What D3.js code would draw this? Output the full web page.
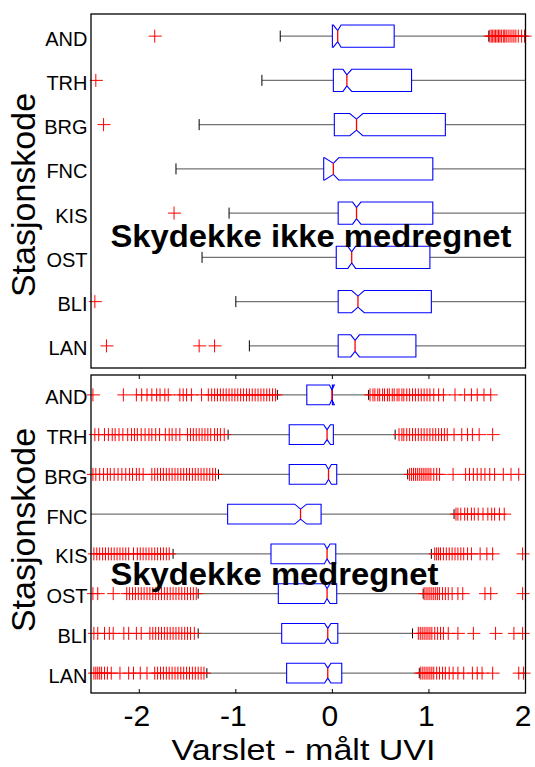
<!DOCTYPE html>
<html>
<head>
<meta charset="utf-8">
<script src="https://cdn.jsdelivr.net/npm/d3@7"></script>
<style>
  html, body { margin: 0; padding: 0; background: #fff; }
  svg { display: block; }
  text { font-family: "Liberation Sans", Arial, Helvetica, sans-serif; }
</style>
</head>
<body>
<svg id="chart" width="535" height="767"></svg>
<script>
// Station codes, top to bottom
const stations = ["AND", "TRH", "BRG", "FNC", "KIS", "OST", "BLI", "LAN"];
const xTicks = [-2, -1, 0, 1, 2];
const xLabel = "Varslet - målt UVI";
const yLabel = "Stasjonskode";

// Panel 1: cloud cover not included
const p1Title = "Skydekke ikke medregnet";
const p1WhiskerLow  = [-0.54, -0.73, -1.38, -1.62, -1.07, -1.35, -1.00, -0.86];
const p1Q1          = [0.00, 0.01, 0.02, -0.09, 0.06, 0.04, 0.06, 0.06];
const p1NotchLow    = [0.01, 0.11, 0.18, -0.08, 0.21, 0.16, 0.20, 0.19];
const p1Median      = [0.055, 0.15, 0.25, 0.01, 0.25, 0.20, 0.265, 0.235];
const p1NotchHigh   = [0.09, 0.20, 0.315, 0.065, 0.295, 0.24, 0.33, 0.28];
const p1Q3          = [0.64, 0.82, 1.17, 1.04, 1.04, 1.01, 1.025, 0.865];
const p1WhiskerHigh = [1.62, 2.45, 2.6, 2.55, 2.5, 2.45, 2.5, 2.4];
const p1Outliers = [
  [-1.84, 1.63, 1.645, 1.66, 1.675, 1.69, 1.705, 1.72, 1.735, 1.75, 1.77, 1.785, 1.80, 1.82, 1.84, 1.86, 1.88, 1.90, 1.925, 1.96, 1.99],
  [-2.45],
  [-2.37],
  [],
  [-1.64],
  [],
  [-2.46],
  [-2.34, -1.38, -1.22]
];

// Panel 2: cloud cover included
const p2Title = "Skydekke medregnet";
const p2WhiskerLow  = [-0.57, -1.08, -1.18, -2.8, -1.65, -1.39, -1.39, -1.30];
const p2Q1          = [-0.265, -0.447, -0.447, -1.085, -0.636, -0.56, -0.525, -0.474];
const p2NotchLow    = [-0.03, -0.09, -0.07, -0.39, -0.083, -0.083, -0.08, -0.08];
const p2Median      = [-0.005, -0.055, -0.04, -0.33, -0.055, -0.055, -0.048, -0.048];
const p2NotchHigh   = [0.02, -0.02, -0.01, -0.267, -0.024, -0.024, -0.015, -0.015];
const p2Q3          = [0.0, 0.01, 0.045, -0.117, 0.035, 0.045, 0.056, 0.097];
const p2WhiskerHigh = [0.375, 0.65, 0.78, 1.26, 1.025, 0.94, 0.83, 0.90];
const p2Outliers = [
  [-2.48, -2.165, -2.03, -1.975, -1.92, -1.87, -1.82, -1.785, -1.735, -1.70, -1.58, -1.545, -1.51, -1.46, -1.355, -1.285,
   -1.25, -1.22, -1.19, -1.16, -1.13, -1.10, -1.07, -1.04, -1.01, -0.98, -0.95, -0.92, -0.89, -0.86, -0.83, -0.80, -0.77, -0.74, -0.71, -0.68, -0.65, -0.62, -0.59,
   0.39, 0.42, 0.44, 0.47, 0.49, 0.52, 0.54, 0.57, 0.59, 0.62, 0.64, 0.67, 0.69, 0.72, 0.74, 0.77, 0.80, 0.83, 0.86, 0.89, 0.92, 0.95, 0.98, 1.01,
   1.05, 1.10, 1.15, 1.27, 1.37, 1.44, 1.50, 1.57, 1.64],
  [-2.46, -2.42, -2.36, -2.32, -2.28, -2.25, -2.21, -2.17, -2.12, -2.08, -2.05, -2.02, -1.98, -1.94, -1.90, -1.87, -1.83, -1.79, -1.73, -1.69, -1.66, -1.62, -1.58,
   -1.50, -1.47, -1.44, -1.41, -1.38, -1.35, -1.32, -1.29, -1.26, -1.22, -1.19, -1.16, -1.12,
   0.69, 0.72, 0.74, 0.77, 0.80, 0.83, 0.86, 0.89, 0.92, 0.95, 0.98, 1.01, 1.04, 1.07, 1.10, 1.13, 1.16, 1.19, 1.26, 1.34, 1.40, 1.45, 1.52, 1.66],
  [-2.48, -2.45, -2.41, -2.37, -2.33, -2.30, -2.26, -2.22, -2.18, -2.14, -2.10, -2.07, -2.03, -2.00, -1.96,
   -1.87, -1.84, -1.81, -1.78, -1.75, -1.72, -1.69, -1.66, -1.63, -1.60, -1.57, -1.54, -1.51, -1.48, -1.45, -1.42, -1.39, -1.36, -1.33, -1.30, -1.27, -1.24, -1.21,
   0.80, 0.82, 0.84, 0.86, 0.88, 0.90, 0.92, 0.94, 0.96, 0.98, 1.00, 1.02, 1.05, 1.08, 1.11,
   1.25, 1.38, 1.42, 1.46, 1.50, 1.54, 1.58, 1.63, 1.68, 1.77, 1.85, 1.93],
  [1.28, 1.30, 1.33, 1.37, 1.40, 1.44, 1.47, 1.51, 1.56, 1.61, 1.65, 1.68, 1.73, 1.78],
  [-2.47, -2.44, -2.41, -2.38, -2.35, -2.32, -2.29, -2.26, -2.23, -2.20, -2.17, -2.14, -2.11, -2.06, -2.02, -1.99, -1.96, -1.93, -1.90, -1.87, -1.84, -1.81, -1.78, -1.75, -1.72, -1.69,
   1.06, 1.08, 1.10, 1.12, 1.15, 1.18, 1.21, 1.24, 1.27, 1.30, 1.33, 1.36, 1.40, 1.44, 1.53, 1.60, 1.66, 1.97],
  [-2.48, -2.43, -2.27, -2.13, -2.10, -2.07, -2.04, -2.01, -1.98, -1.95, -1.92, -1.89, -1.86, -1.83, -1.80, -1.77, -1.74, -1.71, -1.68, -1.65, -1.62, -1.59, -1.56, -1.53, -1.50, -1.47, -1.44, -1.41,
   0.95, 0.97, 0.99, 1.01, 1.03, 1.05, 1.07, 1.09, 1.11, 1.14, 1.17, 1.20, 1.24, 1.30, 1.35, 1.58, 1.64, 1.97],
  [-2.47, -2.43, -2.36, -2.31, -2.27, -2.16, -2.11, -2.03, -1.98, -1.89, -1.86, -1.83, -1.80, -1.77, -1.74, -1.71, -1.68, -1.65, -1.62, -1.59, -1.56, -1.53, -1.50, -1.47, -1.43,
   0.89, 0.91, 0.93, 0.95, 0.97, 0.99, 1.01, 1.03, 1.06, 1.09, 1.12, 1.15, 1.20, 1.30, 1.46, 1.69, 1.88, 1.97],
  [-2.47, -2.45, -2.43, -2.41, -2.39, -2.36, -2.33, -2.29, -2.20, -2.11, -2.06, -1.99, -1.92,
   -1.84, -1.81, -1.78, -1.75, -1.72, -1.69, -1.66, -1.63, -1.60, -1.57, -1.54, -1.51, -1.48, -1.45, -1.42, -1.39, -1.36, -1.33,
   0.91, 0.93, 0.95, 0.97, 0.99, 1.01, 1.03, 1.05, 1.08, 1.11, 1.14, 1.17, 1.21, 1.25, 1.30, 1.36, 1.45, 1.50, 1.55, 1.66, 1.93, 1.98]
];

// ---- layout ----
const plotLeft = 91, plotRight = 525.5;
const x = d3.scaleLinear().domain([-2.5, 2]).range([plotLeft, plotRight]);

const panels = [
  { id: "p1", top: 14, bottom: 368, title: p1Title, titleY: 247, titleW: 401, yLabelY: 195, showTicks: false,
    wLo: p1WhiskerLow, q1: p1Q1, nLo: p1NotchLow, med: p1Median, nHi: p1NotchHigh, q3: p1Q3, wHi: p1WhiskerHigh, out: p1Outliers },
  { id: "p2", top: 375, bottom: 693, title: p2Title, titleY: 585, titleW: 328, yLabelY: 530, showTicks: true,
    wLo: p2WhiskerLow, q1: p2Q1, nLo: p2NotchLow, med: p2Median, nHi: p2NotchHigh, q3: p2Q3, wHi: p2WhiskerHigh, out: p2Outliers }
];

const svg = d3.select("#chart");
const defs = svg.append("defs");
const [xMin, xMax] = x.domain();

panels.forEach(p => {
  const y = d3.scalePoint().domain(stations).range([p.top, p.bottom]).padding(0.5);
  const hw = y.step() * 0.25;      // half box height
  const nd = hw / 2;               // notch depth

  defs.append("clipPath").attr("id", "clip-" + p.id)
    .append("rect")
    .attr("x", plotLeft).attr("y", p.top)
    .attr("width", plotRight - plotLeft).attr("height", p.bottom - p.top);

  const g = svg.append("g");
  const clipped = g.append("g").attr("clip-path", `url(#clip-${p.id})`);

  const rows = stations.map((s, i) => ({ s, i, yc: y(s) }));

  // whiskers
  clipped.selectAll("line.wl").data(rows).join("line")
    .attr("x1", d => x(p.wLo[d.i])).attr("x2", d => x(p.q1[d.i]))
    .attr("y1", d => d.yc).attr("y2", d => d.yc)
    .attr("stroke", "#000").attr("stroke-opacity", 0.55).attr("stroke-width", 1.2);
  clipped.selectAll("line.wh").data(rows).join("line")
    .attr("x1", d => x(p.q3[d.i])).attr("x2", d => x(p.wHi[d.i]))
    .attr("y1", d => d.yc).attr("y2", d => d.yc)
    .attr("stroke", "#000").attr("stroke-opacity", 0.55).attr("stroke-width", 1.2);

  // whisker end caps
  ["wLo", "wHi"].forEach(k => {
    clipped.selectAll("line.cap-" + k).data(rows).join("line")
      .attr("x1", d => x(p[k][d.i])).attr("x2", d => x(p[k][d.i]))
      .attr("y1", d => d.yc - hw / 2).attr("y2", d => d.yc + hw / 2)
      .attr("stroke", "#000").attr("stroke-width", 1);
  });

  // notched boxes
  const outline = d3.line().x(q => x(q[0])).y(q => q[1]).curve(d3.curveLinearClosed);
  clipped.selectAll("path.box").data(rows).join("path")
    .attr("d", d => {
      const i = d.i, t = d.yc - hw, b = d.yc + hw;
      return outline([
        [p.q1[i], t], [p.nLo[i], t], [p.med[i], t + nd], [p.nHi[i], t], [p.q3[i], t],
        [p.q3[i], b], [p.nHi[i], b], [p.med[i], b - nd], [p.nLo[i], b], [p.q1[i], b]
      ]);
    })
    .attr("fill", "none").attr("stroke", "#0000ff").attr("stroke-width", 1.1);

  // medians
  clipped.selectAll("line.med").data(rows).join("line")
    .attr("x1", d => x(p.med[d.i])).attr("x2", d => x(p.med[d.i]))
    .attr("y1", d => d.yc - hw + nd).attr("y2", d => d.yc + hw - nd)
    .attr("stroke", "#ff0000").attr("stroke-width", 1.3);

  // outliers as "+" markers
  const pts = [];
  rows.forEach(d => p.out[d.i].forEach(v => {
    if (v >= xMin && v <= xMax) pts.push({ v, yc: d.yc });
  }));
  g.selectAll("path.out").data(pts).join("path")
    .attr("d", d => {
      const cx = x(d.v), cy = d.yc;
      return `M${cx - 6},${cy}H${cx + 7}M${cx},${cy - 6.5}V${cy + 6.5}`;
    })
    .attr("fill", "none").attr("stroke", "#ff0000").attr("stroke-width", 1);

  // frame
  g.append("rect")
    .attr("x", plotLeft).attr("y", p.top)
    .attr("width", plotRight - plotLeft).attr("height", p.bottom - p.top)
    .attr("fill", "none").attr("stroke", "#000").attr("stroke-width", 1.3);

  // station labels
  const yAxis = g.append("g").attr("transform", `translate(${plotLeft},0)`)
    .call(d3.axisLeft(y).tickSize(0).tickPadding(3.5));
  yAxis.select(".domain").remove();
  yAxis.selectAll("text")
    .attr("dy", "0.45em")
    .style("font-family", '"Liberation Sans", Arial, sans-serif')
    .style("font-size", "20px").attr("fill", "#000");

  // inward x ticks
  if (p.showTicks) {
    xTicks.forEach(t => {
      g.append("line").attr("x1", x(t)).attr("x2", x(t))
        .attr("y1", p.bottom).attr("y2", p.bottom - 4).attr("stroke", "#000");
      g.append("line").attr("x1", x(t)).attr("x2", x(t))
        .attr("y1", p.top).attr("y2", p.top + 4).attr("stroke", "#000");
    });
    const xAxis = g.append("g").attr("transform", `translate(0,${p.bottom})`)
      .call(d3.axisBottom(x).tickValues(xTicks).tickSize(0).tickFormat(d3.format("d")));
    xAxis.select(".domain").remove();
    xAxis.selectAll("text")
      .attr("y", 33).attr("dy", null).attr("dx", -3)
      .text(d => String(d).replace("\u2212", "-"))
      .style("font-family", '"Liberation Sans", Arial, sans-serif')
      .style("font-size", "30px").attr("fill", "#000");
  }

  // y axis title
  svg.append("text")
    .attr("transform", `translate(35,${p.yLabelY}) rotate(-90)`)
    .attr("text-anchor", "middle")
    .style("font-size", "34px")
    .text(yLabel);

  // panel title, drawn over the data
  svg.append("text")
    .attr("x", 110.5).attr("y", p.titleY)
    .attr("textLength", p.titleW).attr("lengthAdjust", "spacingAndGlyphs")
    .style("font-size", "31px").style("font-weight", "bold")
    .text(p.title);
});

// x axis title
svg.append("text")
  .attr("x", 303.5).attr("y", 760)
  .attr("text-anchor", "middle")
  .attr("textLength", 264).attr("lengthAdjust", "spacingAndGlyphs")
  .style("font-size", "30px")
  .text(xLabel);
</script>
</body>
</html>
